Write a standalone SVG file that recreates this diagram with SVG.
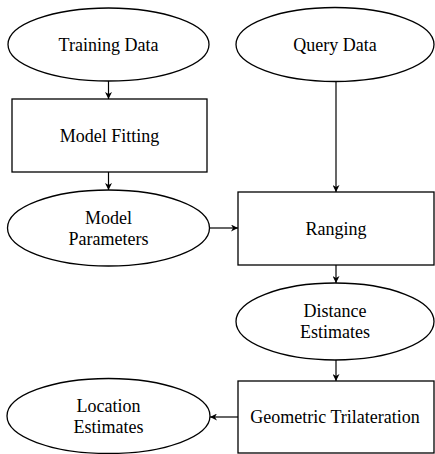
<svg xmlns="http://www.w3.org/2000/svg" width="435" height="454" viewBox="0 0 435 454" font-family="'Liberation Serif', 'Times New Roman', serif">
  <style>
    .shape { fill: #ffffff; stroke: #000000; stroke-width: 1.3; }
    .label { font-family: 'Liberation Serif', 'Times New Roman', serif; font-size: 18px; fill: #000000; text-anchor: middle; }
    .edge { fill: none; stroke: #000000; stroke-width: 1.2; marker-end: url(#tip); }
  </style>
  <defs>
    <marker id="tip" viewBox="0 0 10 10" refX="10" refY="5" markerWidth="7" markerHeight="7" markerUnits="userSpaceOnUse" orient="auto">
      <path d="M0,0 L10,5 L0,10 L3,5 Z" fill="#000000"/>
    </marker>
  </defs>

  <g id="connectors">
    <line class="edge" x1="108.5" y1="81" x2="108.5" y2="99"/>
    <line class="edge" x1="108.5" y1="172" x2="108.5" y2="190"/>
    <line class="edge" x1="336" y1="82" x2="336" y2="192"/>
    <line class="edge" x1="209" y1="228" x2="238" y2="228"/>
    <line class="edge" x1="336" y1="265" x2="336" y2="283"/>
    <line class="edge" x1="336" y1="360" x2="336" y2="381"/>
    <line class="edge" x1="238" y1="417" x2="210" y2="417"/>
  </g>

  <g id="training-data">
    <ellipse class="shape" cx="108.5" cy="44.5" rx="100.5" ry="36.5"/>
    <text class="label" x="108.5" y="50.5">Training Data</text>
  </g>

  <g id="model-fitting">
    <rect class="shape" x="12" y="99" width="195" height="73"/>
    <text class="label" x="109.5" y="141.5">Model Fitting</text>
  </g>

  <g id="model-parameters">
    <ellipse class="shape" cx="108.5" cy="228" rx="101" ry="38"/>
    <text class="label" x="108.5" y="223.5">Model</text>
    <text class="label" x="108.5" y="244.5">Parameters</text>
  </g>

  <g id="query-data">
    <ellipse class="shape" cx="335" cy="44.5" rx="99" ry="37"/>
    <text class="label" x="335" y="50.5">Query Data</text>
  </g>

  <g id="ranging">
    <rect class="shape" x="238" y="192" width="196" height="73"/>
    <text class="label" x="336" y="234.5">Ranging</text>
  </g>

  <g id="distance-estimates">
    <ellipse class="shape" cx="335" cy="321.5" rx="99" ry="38.5"/>
    <text class="label" x="335" y="317">Distance</text>
    <text class="label" x="335" y="338">Estimates</text>
  </g>

  <g id="geometric-trilateration">
    <rect class="shape" x="238" y="381" width="196" height="72"/>
    <text class="label" x="335" y="423">Geometric Trilateration</text>
  </g>

  <g id="location-estimates">
    <ellipse class="shape" cx="108.5" cy="416" rx="101.5" ry="37.5"/>
    <text class="label" x="108.5" y="411.5">Location</text>
    <text class="label" x="108.5" y="432.5">Estimates</text>
  </g>
</svg>
